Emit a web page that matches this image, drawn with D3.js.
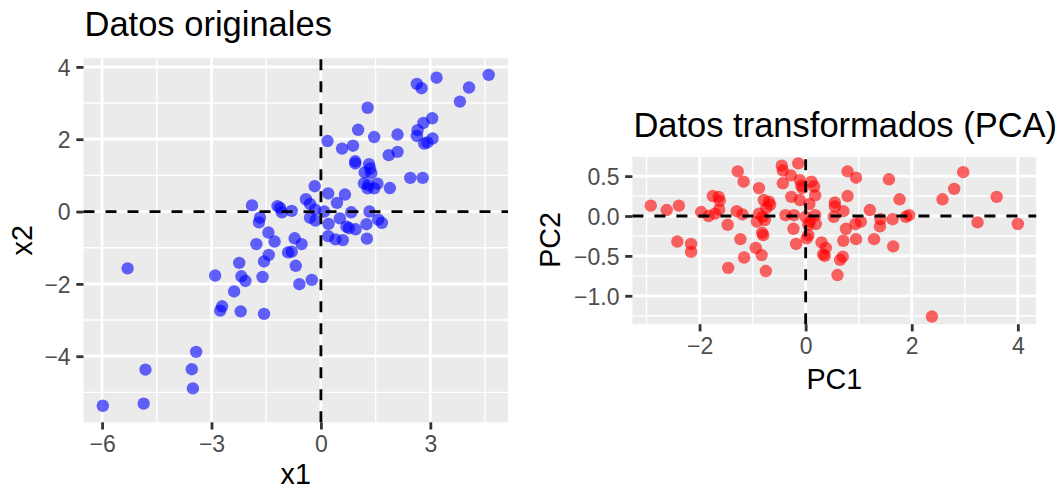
<!DOCTYPE html>
<html>
<head>
<meta charset="utf-8">
<script src="https://cdn.jsdelivr.net/npm/d3@7"></script>
<style>
  html, body { margin: 0; padding: 0; background: #fff; }
  svg { display: block; font-family: "Liberation Sans", Arial, Helvetica, sans-serif; }
</style>
</head>
<body>
<svg id="chart" width="1057" height="489"></svg>
<script>
// Original variables (x1, x2)
const x1 = [4.60, 4.06, 3.81, 3.17, 2.63, 2.76, 1.28, 3.05, 2.81, 2.65, 2.63, 3.06, 2.83, 2.92, 2.10, 1.46, 1.02, 0.18, 0.58, 0.88,
  2.10, 1.86, 0.94, 0.94, 1.32, 1.35, 1.20, 1.38, 1.18, 1.30, 1.55, 1.46, 1.28, 1.89, 2.45, 2.79, -0.17, 0.20, 0.66, 0.44,
  -0.41, -0.30, -0.16, 0.09, -0.80, -0.30, -0.15, 0.52, 0.83, 1.33, 0.21, 0.70, 0.77, 0.95, 1.25, 1.57, 1.67, 1.26, 0.20, 0.40,
  0.60, -0.72, -0.53, -0.80, -0.69, -0.59, -0.25, -1.89, -1.67, -1.70, -1.19, -1.12, -1.07, -1.44, -1.27, -1.77, -0.90, -1.43, -1.56, -2.24,
  -2.18, -2.07, -1.60, -2.90, -2.38, -2.71, -2.76, -2.20, -1.56, -5.30, -3.42, -3.54, -4.81, -3.51, -4.86, -5.98];
const x2 = [3.78, 3.43, 3.04, 3.70, 3.53, 3.41, 2.87, 2.58, 2.45, 2.25, 2.09, 2.02, 1.88, 1.91, 2.13, 2.06, 2.26, 1.95, 1.74, 1.82,
  1.65, 1.56, 1.39, 1.33, 1.31, 1.19, 1.08, 1.06, 0.78, 0.73, 0.77, 0.64, 0.64, 0.65, 0.93, 0.93, 0.70, 0.50, 0.47, 0.24,
  0.34, 0.21, 0.06, 0.00, 0.02, -0.17, -0.25, -0.19, -0.02, 0.00, -0.34, -0.42, -0.46, -0.49, -0.35, -0.22, -0.31, -0.75, -0.68, -0.77,
  -0.79, -0.74, -0.90, -1.11, -1.50, -2.01, -1.89, 0.17, -0.17, -0.30, 0.15, 0.10, -0.02, -0.58, -0.83, -0.90, -1.13, -1.20, -1.38, -1.42,
  -1.79, -1.92, -1.81, -1.77, -2.21, -2.62, -2.74, -2.76, -2.83, -1.57, -3.88, -4.36, -4.37, -4.89, -5.31, -5.37];

// Principal component scores (PC1, PC2)
const pc1 = [-2.92, -2.62, -2.39, -2.42, -2.16, -2.16, -1.97, -1.83, -1.75, -1.64, -1.62, -1.63, -1.71, -1.47, -1.46, -1.28, -1.17, -1.30, -1.19, -1.23,
  -1.16, -0.94, -0.83, -0.75, -0.88, -0.79, -0.69, -0.67, -0.74, -0.88, -0.81, -0.92, -0.77, -0.82, -0.80, -0.45, -0.43, -0.28, -0.14, -0.43,
  -0.11, -0.08, -0.27, -0.11, -0.38, -0.22, -0.23, -0.18, 0.02, -0.06, 0.11, 0.16, 0.18, 0.07, 0.00, 0.18, 0.08, 0.19, 0.05, 0.05,
  0.79, 0.95, 0.79, 0.55, 0.55, 0.71, 0.53, 0.76, 0.94, 1.04, 0.71, 0.95, 0.30, 0.38, 0.33, 0.36, 0.70, 0.65, 0.60, 1.21,
  1.41, 1.40, 1.29, 1.64, 1.65, 1.57, 1.77, 1.89, 1.95, 2.58, 2.80, 2.97, 3.24, 3.60, 4.00, 2.38];
const pc2 = [0.13, 0.075, 0.13, -0.32, -0.35, -0.45, 0.05, 0.00, 0.25, 0.24, 0.19, 0.08, 0.03, -0.11, -0.65, 0.56, 0.43, 0.06, 0.02, -0.29,
  -0.52, -0.40, -0.49, -0.69, 0.35, 0.20, 0.18, 0.14, 0.10, 0.03, -0.01, -0.07, -0.05, -0.21, -0.24, 0.63, 0.57, 0.51, 0.66, 0.41,
  0.45, 0.38, 0.24, 0.20, 0.01, 0.01, -0.16, -0.35, -0.28, 0.35, 0.43, 0.37, 0.26, 0.15, -0.01, 0.01, -0.07, -0.10, -0.11, -0.24,
  0.56, 0.48, 0.25, 0.17, 0.12, 0.06, -0.01, -0.16, -0.10, -0.07, -0.31, -0.29, -0.33, -0.40, -0.48, -0.50, -0.51, -0.55, -0.74, 0.075,
  -0.04, -0.13, -0.29, -0.04, -0.38, 0.46, 0.21, -0.01, 0.01, 0.21, 0.34, 0.55, -0.08, 0.24, -0.10, -1.26];

// Axis breaks
const leftXTicks = [-6, -3, 0, 3];
const leftXMinor = [-4.5, -1.5, 1.5, 4.5];
const leftYTicks = [-4, -2, 0, 2, 4];
const leftYMinor = [-5, -3, -1, 1, 3];
const rightXTicks = [-2, 0, 2, 4];
const rightXMinor = [-3, -1, 1, 3];
const rightYTicks = [-1.0, -0.5, 0.0, 0.5];
const rightYMinor = [-1.25, -0.75, -0.25, 0.25, 0.75];

const svg = d3.select("#chart");
const minus = s => s.replace("-", "\u2212");

// ggplot-style padded domain (5% each side)
function padded(values) {
  const [lo, hi] = d3.extent(values);
  const pad = (hi - lo) * 0.05;
  return [lo - pad, hi + pad];
}

function panel(opts) {
  const { xs, ys, box, color, xTicks, xMinor, yTicks, yMinor, xFmt, yFmt,
          title, titleY, xLabel, yLabel, xLabelY, yLabelX, tickLabelY } = opts;
  const x = d3.scaleLinear().domain(padded(xs)).range([box.x0, box.x1]);
  const y = d3.scaleLinear().domain(padded(ys)).range([box.y1, box.y0]);
  const g = svg.append("g");

  g.append("rect")
    .attr("x", box.x0).attr("y", box.y0)
    .attr("width", box.x1 - box.x0).attr("height", box.y1 - box.y0)
    .attr("fill", "#EBEBEB");

  // minor grid
  g.selectAll(null).data(xMinor.filter(v => x(v) > box.x0 && x(v) < box.x1)).join("line")
    .attr("x1", d => x(d)).attr("x2", d => x(d)).attr("y1", box.y0).attr("y2", box.y1)
    .attr("stroke", "#fff").attr("stroke-width", 1.4);
  g.selectAll(null).data(yMinor.filter(v => y(v) > box.y0 && y(v) < box.y1)).join("line")
    .attr("y1", d => y(d)).attr("y2", d => y(d)).attr("x1", box.x0).attr("x2", box.x1)
    .attr("stroke", "#fff").attr("stroke-width", 1.4);
  // major grid
  g.selectAll(null).data(xTicks).join("line")
    .attr("x1", d => x(d)).attr("x2", d => x(d)).attr("y1", box.y0).attr("y2", box.y1)
    .attr("stroke", "#fff").attr("stroke-width", 2.8);
  g.selectAll(null).data(yTicks).join("line")
    .attr("y1", d => y(d)).attr("y2", d => y(d)).attr("x1", box.x0).attr("x2", box.x1)
    .attr("stroke", "#fff").attr("stroke-width", 2.8);

  // points
  g.selectAll(null).data(d3.range(xs.length)).join("circle")
    .attr("cx", i => x(xs[i])).attr("cy", i => y(ys[i]))
    .attr("r", 6.2)
    .attr("fill", color).attr("fill-opacity", 0.6);

  // reference lines through the origin
  g.append("line")
    .attr("x1", box.x0).attr("x2", box.x1).attr("y1", y(0)).attr("y2", y(0))
    .attr("stroke", "#000").attr("stroke-width", 2.8).attr("stroke-dasharray", "11,11");
  g.append("line")
    .attr("x1", x(0)).attr("x2", x(0)).attr("y1", box.y1).attr("y2", box.y0)
    .attr("stroke", "#000").attr("stroke-width", 2.8).attr("stroke-dasharray", "11,11");

  // x axis
  const xAxis = d3.axisBottom(x).tickValues(xTicks).tickSize(7.2).tickPadding(5.7)
    .tickFormat(d => minus(xFmt(d)));
  const gx = g.append("g").attr("transform", `translate(0,${box.y1})`).call(xAxis);
  gx.select(".domain").remove();
  gx.selectAll(".tick line").attr("stroke", "#333").attr("stroke-width", 2.8);
  gx.selectAll(".tick text").attr("fill", "#4D4D4D")
    .attr("font-size", 23).attr("dy", null).attr("y", tickLabelY - box.y1);

  // y axis
  const yAxis = d3.axisLeft(y).tickValues(yTicks).tickSize(7.2).tickPadding(5.7)
    .tickFormat(d => minus(yFmt(d)));
  const gy = g.append("g").attr("transform", `translate(${box.x0},0)`).call(yAxis);
  gy.select(".domain").remove();
  gy.selectAll(".tick line").attr("stroke", "#333").attr("stroke-width", 2.8);
  gy.selectAll(".tick text").attr("fill", "#4D4D4D")
    .attr("font-size", 23).attr("dy", "0.36em");

  // titles
  g.append("text").attr("x", box.x0 + 1).attr("y", titleY)
    .attr("font-size", 34.5).attr("fill", "#000").text(title);
  g.append("text").attr("x", (box.x0 + box.x1) / 2).attr("y", xLabelY)
    .attr("text-anchor", "middle").attr("font-size", 28.7).attr("fill", "#000").text(xLabel);
  g.append("text")
    .attr("transform", `translate(${yLabelX},${(box.y0 + box.y1) / 2}) rotate(-90)`)
    .attr("text-anchor", "middle").attr("font-size", 28.7).attr("fill", "#000").text(yLabel);
}

panel({
  xs: x1, ys: x2, color: "#0000FF",
  box: { x0: 83.5, x1: 508, y0: 58.3, y1: 422.3 },
  xTicks: leftXTicks, xMinor: leftXMinor, yTicks: leftYTicks, yMinor: leftYMinor,
  xFmt: d3.format("d"), yFmt: d3.format("d"),
  title: "Datos originales", titleY: 36,
  xLabel: "x1", yLabel: "x2", xLabelY: 484, yLabelX: 32, tickLabelY: 452
});

panel({
  xs: pc1, ys: pc2, color: "#FF0000",
  box: { x0: 632.4, x1: 1036.2, y0: 155.7, y1: 324.2 },
  xTicks: rightXTicks, xMinor: rightXMinor, yTicks: rightYTicks, yMinor: rightYMinor,
  xFmt: d3.format("d"), yFmt: d3.format(".1f"),
  title: "Datos transformados (PCA)", titleY: 137,
  xLabel: "PC1", yLabel: "PC2", xLabelY: 388.5, yLabelX: 560, tickLabelY: 354
});
</script>
</body>
</html>
